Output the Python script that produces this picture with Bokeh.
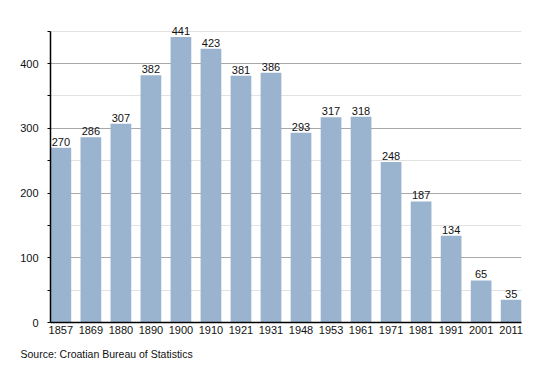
from bokeh.plotting import figure
from bokeh.models import Range1d, FixedTicker, Title, ColumnDataSource, LabelSet
from bokeh.core.properties import value
from bokeh.embed import file_html
from bokeh.resources import INLINE

years = ["1857", "1869", "1880", "1890", "1900", "1910", "1921", "1931",
         "1948", "1953", "1961", "1971", "1981", "1991", "2001", "2011"]
population = [270, 286, 307, 382, 441, 423, 381, 386,
              293, 317, 318, 248, 187, 134, 65, 35]
y_major = [0, 100, 200, 300, 400]
y_minor = [50, 150, 250, 350, 450]
y_top = 450
source_note = "Source: Croatian Bureau of Statistics"

FONT = "Liberation Sans"
xs = list(range(len(years)))
src = ColumnDataSource(dict(x=xs, y=population, lbl=[str(v) for v in population]))

p = figure(width=550, height=373, output_backend="svg", toolbar_location=None,
           x_range=Range1d(-0.345, len(years) - 1 + 0.345), y_range=Range1d(0, 465),
           min_border_left=50, min_border_right=29, min_border_top=21, min_border_bottom=50)
p.outline_line_color = None
p.background_fill_color = "white"
p.border_fill_color = "white"

p.vbar(x="x", top="y", width=0.69, source=src, fill_color="#9ab3cf", line_color=None)

labels = LabelSet(x="x", y="y", text="lbl", source=src, text_align="center",
                  text_baseline="bottom", y_offset=2, text_font=value(FONT),
                  text_font_size=value("11px"), text_color=value("#111111"))
p.add_layout(labels)

# x axis
p.xaxis.ticker = FixedTicker(ticks=xs)
p.xaxis.major_label_overrides = {i: y for i, y in enumerate(years)}
p.xaxis.major_tick_out = 0
p.xaxis.major_tick_in = 0
p.xaxis.minor_tick_out = 0
p.xaxis.minor_tick_in = 0
p.xaxis.major_label_standoff = 3
p.xaxis.axis_line_color = "black"
p.xaxis.axis_line_width = 1.5
p.xaxis.major_label_text_font = FONT
p.xaxis.major_label_text_font_size = "11px"
p.xaxis.major_label_text_color = "#111111"
p.xgrid.grid_line_color = None

# y axis
p.yaxis.ticker = FixedTicker(ticks=y_major, minor_ticks=y_minor)
p.yaxis.bounds = (0, y_top)
p.yaxis.major_tick_out = 3
p.yaxis.major_tick_in = 0
p.yaxis.minor_tick_out = 3
p.yaxis.minor_tick_in = 0
p.yaxis.major_tick_line_color = "black"
p.yaxis.minor_tick_line_color = "black"
p.yaxis.major_label_standoff = 9
p.yaxis.axis_line_color = "black"
p.yaxis.axis_line_width = 1.5
p.yaxis.major_label_text_font = FONT
p.yaxis.major_label_text_font_size = "11px"
p.yaxis.major_label_text_color = "#111111"
p.ygrid.grid_line_color = "#a8a8a8"
p.ygrid.grid_line_width = 1
p.ygrid.minor_grid_line_color = "#e2e2e2"
p.ygrid.minor_grid_line_width = 1

note = Title(text=source_note, align="left", offset=-30, standoff=23,
             vertical_align="top",
             text_font=FONT, text_font_size="10.5px", text_font_style="normal",
             text_color="#111111")
p.add_layout(note, "below")

open("out.html", "w").write(file_html(p, INLINE))
